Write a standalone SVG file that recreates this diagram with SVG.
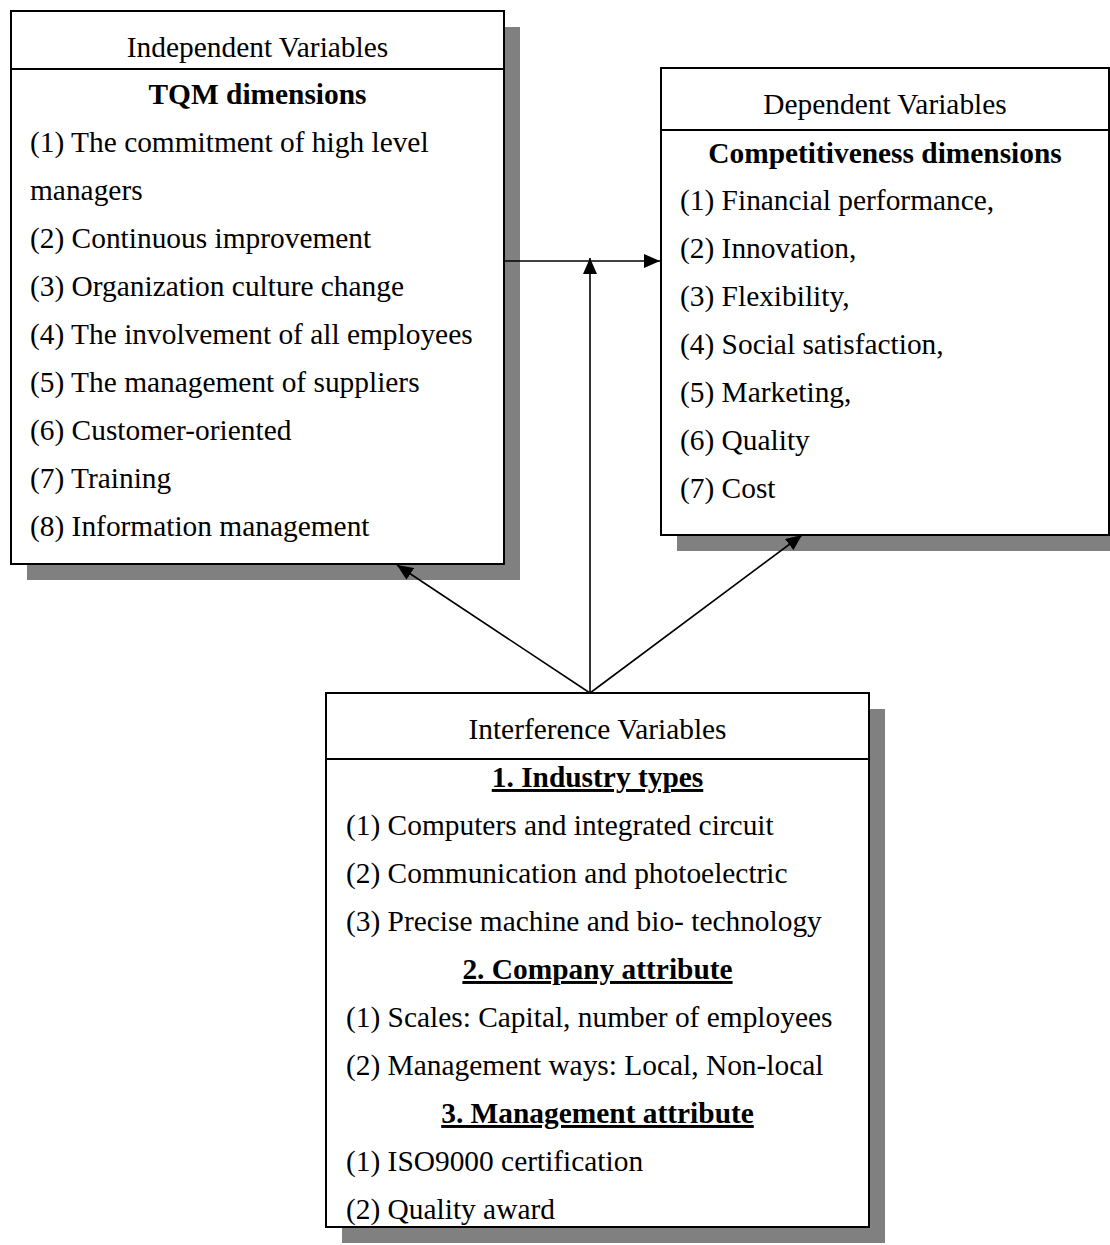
<svg xmlns="http://www.w3.org/2000/svg" width="1110" height="1245" viewBox="0 0 1110 1245">
<defs>
<marker id="arr" markerWidth="16" markerHeight="14" refX="16" refY="7" orient="auto" markerUnits="userSpaceOnUse">
<path d="M0,0 L16,7 L0,14 Z" fill="#000"/>
</marker>
<style>
.shadow{fill:#808080;stroke:none}
.box{fill:#fff;stroke:#000;stroke-width:2}
.div{stroke:#000;stroke-width:2}
text{font-family:"Liberation Serif","Times New Roman",serif;font-size:29.4px;fill:#000}
.c{text-anchor:middle}
.b{font-weight:bold}
.u{text-decoration:underline}
.con{stroke:#000;stroke-width:1.6;fill:none}
</style>
</defs>
<rect width="1110" height="1245" fill="#fff"/>
<g id="independent">
<rect class="shadow" x="27" y="27" width="493" height="553"/>
<rect class="box" x="11" y="11" width="493" height="553"/>
<line class="div" x1="11" y1="69" x2="504" y2="69"/>
<text class="c" x="257.5" y="57">Independent Variables</text>
<text class="c b" x="257.5" y="104">TQM dimensions</text>
<text x="30" y="152">(1) The commitment of high level</text>
<text x="30" y="200">managers</text>
<text x="30" y="248">(2) Continuous improvement</text>
<text x="30" y="296">(3) Organization culture change</text>
<text x="30" y="344">(4) The involvement of all employees</text>
<text x="30" y="392">(5) The management of suppliers</text>
<text x="30" y="440">(6) Customer-oriented</text>
<text x="30" y="488">(7) Training</text>
<text x="30" y="536">(8) Information management</text>
</g>
<g id="dependent">
<rect class="shadow" x="677" y="84" width="448" height="467"/>
<rect class="box" x="661" y="68" width="448" height="467"/>
<line class="div" x1="661" y1="130" x2="1109" y2="130"/>
<text class="c" x="885" y="114">Dependent Variables</text>
<text class="c b" x="885" y="163">Competitiveness dimensions</text>
<text x="680" y="210">(1) Financial performance,</text>
<text x="680" y="258">(2) Innovation,</text>
<text x="680" y="306">(3) Flexibility,</text>
<text x="680" y="354">(4) Social satisfaction,</text>
<text x="680" y="402">(5) Marketing,</text>
<text x="680" y="450">(6) Quality</text>
<text x="680" y="498">(7) Cost</text>
</g>
<g id="interference">
<rect class="shadow" x="342" y="709" width="543" height="534"/>
<rect class="box" x="326" y="693" width="543" height="534"/>
<line class="div" x1="326" y1="759" x2="869" y2="759"/>
<text class="c" x="597.5" y="739">Interference Variables</text>
<text class="c b u" x="597.5" y="787">1. Industry types</text>
<text x="346" y="835">(1) Computers and integrated circuit</text>
<text x="346" y="883">(2) Communication and photoelectric</text>
<text x="346" y="931">(3) Precise machine and bio- technology</text>
<text class="c b u" x="597.5" y="979">2. Company attribute</text>
<text x="346" y="1027">(1) Scales: Capital, number of employees</text>
<text x="346" y="1075">(2) Management ways: Local, Non-local</text>
<text class="c b u" x="597.5" y="1123">3. Management attribute</text>
<text x="346" y="1171">(1) ISO9000 certification</text>
<text x="346" y="1219">(2) Quality award</text>
</g>
<g id="connectors">
<line class="con" x1="504" y1="261" x2="660" y2="261" marker-end="url(#arr)"/>
<line class="con" x1="590" y1="693" x2="590" y2="258" marker-end="url(#arr)"/>
<line class="con" x1="590" y1="693" x2="397" y2="565" marker-end="url(#arr)"/>
<line class="con" x1="590" y1="693" x2="802" y2="535" marker-end="url(#arr)"/>
</g>
</svg>
